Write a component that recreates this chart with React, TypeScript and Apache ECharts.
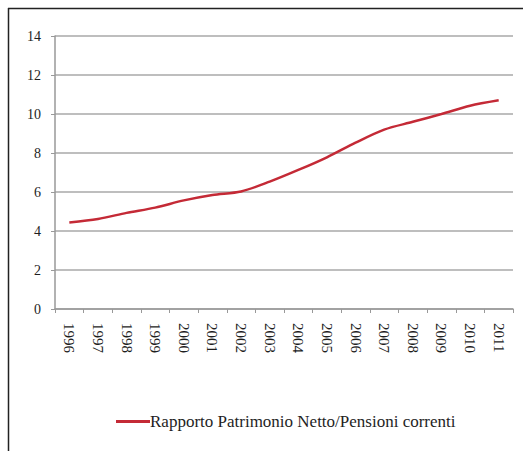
import React, { useEffect, useRef } from "react";
import * as echarts from "echarts";

const years = ["1996", "1997", "1998", "1999", "2000", "2001", "2002", "2003", "2004", "2005", "2006", "2007", "2008", "2009", "2010", "2011"];
const ratio = [4.44, 4.62, 4.93, 5.2, 5.57, 5.85, 6.03, 6.53, 7.13, 7.78, 8.53, 9.2, 9.6, 10.0, 10.42, 10.7];
const seriesName = "Rapporto Patrimonio Netto/Pensioni correnti";

export default function App() {
  const ref = useRef<HTMLDivElement>(null);
  useEffect(() => {
    if (!ref.current) return;
    const chart = echarts.init(ref.current, null, { renderer: "svg" });
    const font = "'Liberation Serif', 'Times New Roman', serif";
    chart.setOption({
      animation: false,
      backgroundColor: "#ffffff",
      graphic: [
        { type: "line", shape: { x1: 8, y1: 8.5, x2: 523, y2: 8.5 }, style: { stroke: "#222", lineWidth: 1.5 } },
        { type: "line", shape: { x1: 8.5, y1: 8, x2: 8.5, y2: 451 }, style: { stroke: "#222", lineWidth: 1.5 } },
      ],
      grid: { left: 55, right: 10, top: 36, bottom: 142, containLabel: false },
      legend: {
        left: 111,
        top: 408,
        icon: "rect",
        itemWidth: 34,
        itemHeight: 3,
        itemGap: 2,
        textStyle: { fontFamily: font, fontSize: 17, color: "#1e1e1e", padding: [0, 0, 0, -5] },
        data: [seriesName],
      },
      xAxis: {
        type: "category",
        data: years,
        boundaryGap: true,
        axisLine: { lineStyle: { color: "#999", width: 1.5 } },
        axisTick: { show: true, alignWithLabel: false, length: 4, lineStyle: { color: "#999" } },
        axisLabel: { rotate: -90, fontFamily: font, fontSize: 15, color: "#1e1e1e", margin: 14 },
      },
      yAxis: {
        type: "value",
        min: 0,
        max: 14,
        interval: 2,
        axisLine: { show: true, lineStyle: { color: "#999", width: 1.5 } },
        axisTick: { show: true, length: 4, lineStyle: { color: "#999" } },
        axisLabel: { fontFamily: font, fontSize: 14, color: "#1e1e1e", margin: 14 },
        splitLine: { lineStyle: { color: "#a8a8a8", width: 1.5 } },
      },
      series: [
        {
          name: seriesName,
          type: "line",
          data: ratio,
          smooth: 0.3,
          showSymbol: false,
          symbol: "none",
          lineStyle: { color: "#c42a36", width: 2.5 },
          itemStyle: { color: "#c42a36" },
        },
      ],
    });
    return () => chart.dispose();
  }, []);
  return <div ref={ref} style={{ position: "fixed", left: 0, top: 0, width: 523, height: 451 }} />;
}
